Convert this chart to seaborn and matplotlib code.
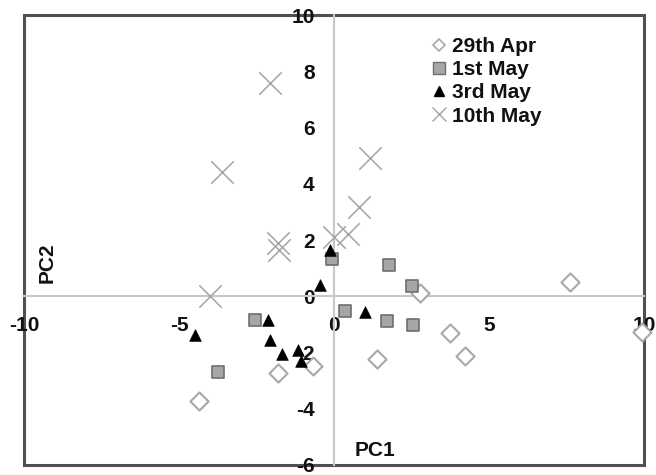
import numpy as np
import pandas as pd
import matplotlib
matplotlib.use("Agg")
import matplotlib.pyplot as plt
import seaborn as sns
from matplotlib.lines import Line2D
from matplotlib.patches import Rectangle

# ---- data ----
apr29_x = [-4.35, -1.8, -0.68, 1.39, 2.77, 3.74, 4.23, 7.61, 9.94]
apr29_y = [-3.74, -2.74, -2.49, -2.24, 0.10, -1.32, -2.14, 0.50, -1.28]

may1_x = [-2.55, -3.74, -0.06, 1.77, 2.50, 0.35, 1.70, 2.55]
may1_y = [-0.85, -2.70, 1.32, 1.10, 0.36, -0.53, -0.89, -1.03]

may3_x = [-4.48, -2.13, -2.06, -1.68, -1.16, -1.05, -0.45, -0.13, 1.00]
may3_y = [-1.39, -0.85, -1.57, -2.07, -1.92, -2.30, 0.39, 1.64, -0.57]

may10_x = [-2.06, -3.61, -1.80, -1.78, -4.00, 0.00, 0.45, 0.81, 1.16]
may10_y = [7.58, 4.41, 1.89, 1.64, 0.00, 2.10, 2.20, 3.17, 4.90]

series_names = ["29th Apr", "1st May", "3rd May", "10th May"]
x_ticks = [-10, -5, 0, 5, 10]
y_ticks = [-6, -4, -2, 0, 2, 4, 6, 8, 10]

df = pd.concat([
    pd.DataFrame({"PC1": apr29_x, "PC2": apr29_y, "date": series_names[0]}),
    pd.DataFrame({"PC1": may1_x, "PC2": may1_y, "date": series_names[1]}),
    pd.DataFrame({"PC1": may3_x, "PC2": may3_y, "date": series_names[2]}),
    pd.DataFrame({"PC1": may10_x, "PC2": may10_y, "date": series_names[3]}),
], ignore_index=True)

sns.set_style("white")
plt.rcParams["font.family"] = ["Liberation Sans", "DejaVu Sans"]
plt.rcParams["font.weight"] = "bold"

fig = plt.figure(figsize=(6.56, 4.75), dpi=100)
ax = fig.add_axes([24 / 656, 1 - 465 / 475, 620 / 656, 450 / 475])

axis_grey = "#c8c8c8"

styles = {
    "29th Apr": dict(marker="D", s=85, facecolor="white", edgecolor="#a8a8a8", linewidth=1.5),
    "1st May": dict(marker="s", s=75, facecolor="#a6a6a6", edgecolor="#6e6e6e", linewidth=1.2),
    "3rd May": dict(marker="^", s=70, facecolor="black", edgecolor="black", linewidth=0.5),
    "10th May": dict(marker="x", s=260, color="#a4a4a4", linewidth=1.1),
}

for name in series_names:
    sub = df[df["date"] == name]
    sns.scatterplot(data=sub, x="PC1", y="PC2", ax=ax, legend=False,
                    zorder=3, clip_on=False, **styles[name])

ax.set_xlim(-10, 10)
ax.set_ylim(-6, 10)
ax.set_xticks(x_ticks)
ax.set_yticks(y_ticks)
ax.set_xticklabels([str(t) for t in x_ticks])
ax.set_yticklabels([str(t) for t in y_ticks])

for side in ["top", "right"]:
    ax.spines[side].set_visible(False)
for side in ["left", "bottom"]:
    ax.spines[side].set_position(("data", 0))
    ax.spines[side].set_color(axis_grey)
    ax.spines[side].set_linewidth(1.5)
    ax.spines[side].set_zorder(1)

ax.tick_params(axis="x", direction="out", length=3, width=1, color=axis_grey,
               pad=11, labelsize=15)
ax.tick_params(axis="y", direction="out", length=3, width=1, color=axis_grey,
               pad=11, labelsize=15)
for lab in ax.get_xticklabels() + ax.get_yticklabels():
    lab.set_fontweight("bold")
    lab.set_color("#111111")

ax.set_xlabel("")
ax.set_ylabel("")
ax.text(0.566, 0.033, "PC1", transform=ax.transAxes, ha="center", va="center",
        fontsize=15, fontweight="bold", color="#111111")
ax.text(0.037, 0.449, "PC2", transform=ax.transAxes, ha="center", va="center",
        rotation=90, fontsize=15, fontweight="bold", color="#111111")

# outer frame
ax.add_patch(Rectangle((0, 0), 1, 1, transform=ax.transAxes, fill=False,
                       edgecolor="#505050", linewidth=2.2, clip_on=False, zorder=0.5))

handles = [
    Line2D([], [], linestyle="none", marker="D", markersize=6,
           markerfacecolor="white", markeredgecolor="#a8a8a8", markeredgewidth=1.2),
    Line2D([], [], linestyle="none", marker="s", markersize=8,
           markerfacecolor="#a6a6a6", markeredgecolor="#6e6e6e", markeredgewidth=1),
    Line2D([], [], linestyle="none", marker="^", markersize=7,
           markerfacecolor="black", markeredgecolor="black"),
    Line2D([], [], linestyle="none", marker="x", markersize=10,
           color="#a4a4a4", markeredgewidth=1),
]
leg = ax.legend(handles, series_names, loc="upper left", bbox_to_anchor=(0.656, 0.951),
                frameon=False, borderaxespad=0, borderpad=0, handlelength=0.8,
                handletextpad=0.2, labelspacing=0.2, prop={"size": 15, "weight": "bold"})
for t in leg.get_texts():
    t.set_color("#111111")

fig.savefig("out.png", dpi=100)
